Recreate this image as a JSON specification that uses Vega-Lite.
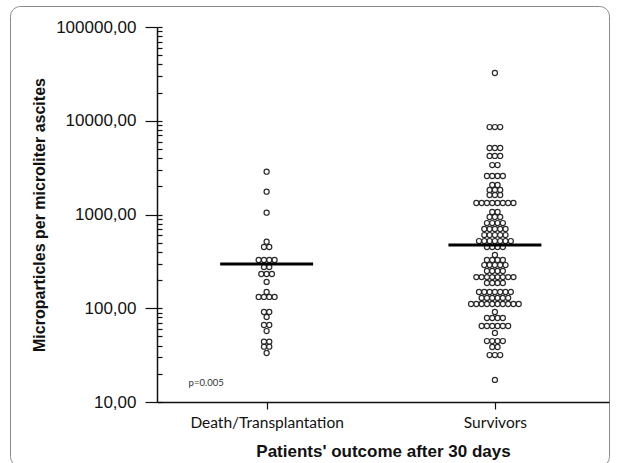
{
  "$schema": "https://vega.github.io/schema/vega-lite/v6.json",
  "width": 599,
  "height": 460,
  "autosize": {"type": "none"},
  "padding": {"left": 10, "top": 6, "right": 18, "bottom": 0},
  "background": "white",
  "config": {"view": {"stroke": "#8a8a8a", "strokeWidth": 1, "cornerRadius": 10}},
  "datasets": {
    "patients": [
      {"group": "Death/Transplantation", "value": 2860},
      {"group": "Death/Transplantation", "value": 1750},
      {"group": "Death/Transplantation", "value": 1045},
      {"group": "Death/Transplantation", "value": 513},
      {"group": "Death/Transplantation", "value": 450},
      {"group": "Death/Transplantation", "value": 450},
      {"group": "Death/Transplantation", "value": 327},
      {"group": "Death/Transplantation", "value": 327},
      {"group": "Death/Transplantation", "value": 327},
      {"group": "Death/Transplantation", "value": 327},
      {"group": "Death/Transplantation", "value": 275},
      {"group": "Death/Transplantation", "value": 275},
      {"group": "Death/Transplantation", "value": 232},
      {"group": "Death/Transplantation", "value": 232},
      {"group": "Death/Transplantation", "value": 232},
      {"group": "Death/Transplantation", "value": 191},
      {"group": "Death/Transplantation", "value": 149},
      {"group": "Death/Transplantation", "value": 132},
      {"group": "Death/Transplantation", "value": 132},
      {"group": "Death/Transplantation", "value": 132},
      {"group": "Death/Transplantation", "value": 132},
      {"group": "Death/Transplantation", "value": 91.2},
      {"group": "Death/Transplantation", "value": 91.2},
      {"group": "Death/Transplantation", "value": 80.7},
      {"group": "Death/Transplantation", "value": 66.3},
      {"group": "Death/Transplantation", "value": 66.3},
      {"group": "Death/Transplantation", "value": 57.1},
      {"group": "Death/Transplantation", "value": 44},
      {"group": "Death/Transplantation", "value": 44},
      {"group": "Death/Transplantation", "value": 38.9},
      {"group": "Death/Transplantation", "value": 38.9},
      {"group": "Death/Transplantation", "value": 33.3},
      {"group": "Survivors", "value": 32300},
      {"group": "Survivors", "value": 8570},
      {"group": "Survivors", "value": 8570},
      {"group": "Survivors", "value": 8570},
      {"group": "Survivors", "value": 5120},
      {"group": "Survivors", "value": 5120},
      {"group": "Survivors", "value": 5120},
      {"group": "Survivors", "value": 4210},
      {"group": "Survivors", "value": 4210},
      {"group": "Survivors", "value": 4210},
      {"group": "Survivors", "value": 3370},
      {"group": "Survivors", "value": 3370},
      {"group": "Survivors", "value": 2575},
      {"group": "Survivors", "value": 2575},
      {"group": "Survivors", "value": 2575},
      {"group": "Survivors", "value": 2575},
      {"group": "Survivors", "value": 2064},
      {"group": "Survivors", "value": 2064},
      {"group": "Survivors", "value": 1825},
      {"group": "Survivors", "value": 1825},
      {"group": "Survivors", "value": 1825},
      {"group": "Survivors", "value": 1614},
      {"group": "Survivors", "value": 1614},
      {"group": "Survivors", "value": 1614},
      {"group": "Survivors", "value": 1327},
      {"group": "Survivors", "value": 1327},
      {"group": "Survivors", "value": 1327},
      {"group": "Survivors", "value": 1327},
      {"group": "Survivors", "value": 1327},
      {"group": "Survivors", "value": 1327},
      {"group": "Survivors", "value": 1327},
      {"group": "Survivors", "value": 1327},
      {"group": "Survivors", "value": 1064},
      {"group": "Survivors", "value": 1064},
      {"group": "Survivors", "value": 940},
      {"group": "Survivors", "value": 940},
      {"group": "Survivors", "value": 940},
      {"group": "Survivors", "value": 811},
      {"group": "Survivors", "value": 811},
      {"group": "Survivors", "value": 811},
      {"group": "Survivors", "value": 811},
      {"group": "Survivors", "value": 700},
      {"group": "Survivors", "value": 700},
      {"group": "Survivors", "value": 700},
      {"group": "Survivors", "value": 700},
      {"group": "Survivors", "value": 700},
      {"group": "Survivors", "value": 604},
      {"group": "Survivors", "value": 604},
      {"group": "Survivors", "value": 604},
      {"group": "Survivors", "value": 604},
      {"group": "Survivors", "value": 604},
      {"group": "Survivors", "value": 521},
      {"group": "Survivors", "value": 521},
      {"group": "Survivors", "value": 521},
      {"group": "Survivors", "value": 521},
      {"group": "Survivors", "value": 521},
      {"group": "Survivors", "value": 521},
      {"group": "Survivors", "value": 521},
      {"group": "Survivors", "value": 450},
      {"group": "Survivors", "value": 450},
      {"group": "Survivors", "value": 450},
      {"group": "Survivors", "value": 450},
      {"group": "Survivors", "value": 370},
      {"group": "Survivors", "value": 327},
      {"group": "Survivors", "value": 327},
      {"group": "Survivors", "value": 327},
      {"group": "Survivors", "value": 327},
      {"group": "Survivors", "value": 289},
      {"group": "Survivors", "value": 289},
      {"group": "Survivors", "value": 289},
      {"group": "Survivors", "value": 289},
      {"group": "Survivors", "value": 289},
      {"group": "Survivors", "value": 250},
      {"group": "Survivors", "value": 250},
      {"group": "Survivors", "value": 250},
      {"group": "Survivors", "value": 250},
      {"group": "Survivors", "value": 215},
      {"group": "Survivors", "value": 215},
      {"group": "Survivors", "value": 215},
      {"group": "Survivors", "value": 215},
      {"group": "Survivors", "value": 215},
      {"group": "Survivors", "value": 215},
      {"group": "Survivors", "value": 215},
      {"group": "Survivors", "value": 215},
      {"group": "Survivors", "value": 186},
      {"group": "Survivors", "value": 186},
      {"group": "Survivors", "value": 186},
      {"group": "Survivors", "value": 186},
      {"group": "Survivors", "value": 149},
      {"group": "Survivors", "value": 149},
      {"group": "Survivors", "value": 149},
      {"group": "Survivors", "value": 149},
      {"group": "Survivors", "value": 149},
      {"group": "Survivors", "value": 149},
      {"group": "Survivors", "value": 149},
      {"group": "Survivors", "value": 129},
      {"group": "Survivors", "value": 129},
      {"group": "Survivors", "value": 129},
      {"group": "Survivors", "value": 129},
      {"group": "Survivors", "value": 129},
      {"group": "Survivors", "value": 129},
      {"group": "Survivors", "value": 111},
      {"group": "Survivors", "value": 111},
      {"group": "Survivors", "value": 111},
      {"group": "Survivors", "value": 111},
      {"group": "Survivors", "value": 111},
      {"group": "Survivors", "value": 111},
      {"group": "Survivors", "value": 111},
      {"group": "Survivors", "value": 111},
      {"group": "Survivors", "value": 111},
      {"group": "Survivors", "value": 111},
      {"group": "Survivors", "value": 91.2},
      {"group": "Survivors", "value": 78.7},
      {"group": "Survivors", "value": 78.7},
      {"group": "Survivors", "value": 78.7},
      {"group": "Survivors", "value": 78.7},
      {"group": "Survivors", "value": 64.7},
      {"group": "Survivors", "value": 64.7},
      {"group": "Survivors", "value": 64.7},
      {"group": "Survivors", "value": 64.7},
      {"group": "Survivors", "value": 64.7},
      {"group": "Survivors", "value": 64.7},
      {"group": "Survivors", "value": 54.5},
      {"group": "Survivors", "value": 44.7},
      {"group": "Survivors", "value": 44.7},
      {"group": "Survivors", "value": 44.7},
      {"group": "Survivors", "value": 44.7},
      {"group": "Survivors", "value": 38.6},
      {"group": "Survivors", "value": 38.6},
      {"group": "Survivors", "value": 31.7},
      {"group": "Survivors", "value": 31.7},
      {"group": "Survivors", "value": 31.7},
      {"group": "Survivors", "value": 17.2}
    ],
    "medians": [
      {"group": "Death/Transplantation", "value": 296},
      {"group": "Survivors", "value": 473}
    ],
    "notes": [
      {"group": "Death/Transplantation", "value": 16, "label": "p=0.005"}
    ]
  },
  "encoding": {
    "x": {
      "field": "group",
      "type": "nominal",
      "sort": ["Death/Transplantation", "Survivors"],
      "scale": {"type": "point", "range": [147, 599], "padding": 0.49, "align": 0.49},
      "axis": {
        "orient": "bottom",
        "offset": -64,
        "labelAngle": 0,
        "domainColor": "#111111",
        "domainWidth": 1.5,
        "tickColor": "#111111",
        "tickSize": 7,
        "tickWidth": 1.2,
        "labelFont": "Lato",
        "labelFontSize": 15.5,
        "labelColor": "#111111",
        "labelPadding": 6,
        "title": "Patients' outcome after 30 days",
        "titleFont": "Liberation Sans",
        "titleFontWeight": "bold",
        "titleFontSize": 17,
        "titleColor": "#111111",
        "titlePadding": 13
      }
    }
  },
  "resolve": {"axis": {"y": "independent"}},
  "layer": [
    {
      "data": {"name": "patients"},
      "transform": [
        {"window": [{"op": "row_number", "as": "r"}, {"op": "count", "as": "n"}], "groupby": ["group", "value"], "frame": [null, null]},
        {"calculate": "datum.r - (datum.n + 1) / 2", "as": "slot"}
      ],
      "mark": {"type": "point", "shape": "circle", "filled": false, "stroke": "#2a2a2a", "strokeWidth": 1.2, "size": 26, "opacity": 1},
      "encoding": {
        "y": {
          "field": "value",
          "type": "quantitative",
          "scale": {"type": "log", "domain": [10, 100000], "range": [396, 21], "nice": false},
          "axis": {
            "orient": "left",
            "offset": -147,
            "grid": false,
            "values": [10, 100, 1000, 10000, 100000],
            "labelExpr": "replace(format(datum.value, '.2f'), '.', ',')",
            "tickSize": 12,
            "tickColor": "#111111",
            "tickWidth": 1.2,
            "domainColor": "#111111",
            "domainWidth": 1.5,
            "labelFont": "Liberation Sans",
            "labelFontSize": 17,
            "labelColor": "#111111",
            "labelPadding": 9,
            "labelOverlap": false,
            "labelFlush": false,
            "labelBound": false,
            "title": "Microparticles per microliter ascites",
            "titleFont": "Liberation Sans",
            "titleFontWeight": "bold",
            "titleFontSize": 16,
            "titleColor": "#111111",
            "titlePadding": 8
          }
        },
        "xOffset": {"field": "slot", "type": "quantitative", "scale": {"domain": [-5, 5], "range": [-26.5, 26.5]}}
      }
    },
    {
      "data": {"name": "medians"},
      "mark": {"type": "tick", "color": "#000000", "size": 93, "thickness": 3, "opacity": 1},
      "encoding": {
        "y": {
          "field": "value",
          "type": "quantitative",
          "scale": {"type": "log", "domain": [10, 100000], "range": [396, 21], "nice": false},
          "axis": {
            "orient": "right",
            "offset": -452,
            "grid": false,
            "domain": false,
            "labels": false,
            "title": null,
            "values": [10, 20, 30, 40, 50, 60, 70, 80, 90, 100, 200, 300, 400, 500, 600, 700, 800, 900, 1000, 2000, 3000, 4000, 5000, 6000, 7000, 8000, 9000, 10000, 20000, 30000, 40000, 50000, 60000, 70000, 80000, 90000, 100000],
            "tickSize": 5,
            "tickColor": "#111111",
            "tickWidth": 1.2
          }
        }
      }
    },
    {
      "data": {"name": "notes"},
      "mark": {"type": "text", "align": "left", "baseline": "middle", "dx": -78, "font": "Lato", "fontSize": 9.5, "color": "#333333"},
      "encoding": {
        "y": {
          "field": "value",
          "type": "quantitative",
          "scale": {"type": "log", "domain": [10, 100000], "range": [396, 21], "nice": false},
          "axis": null
        },
        "text": {"field": "label"}
      }
    }
  ]
}
